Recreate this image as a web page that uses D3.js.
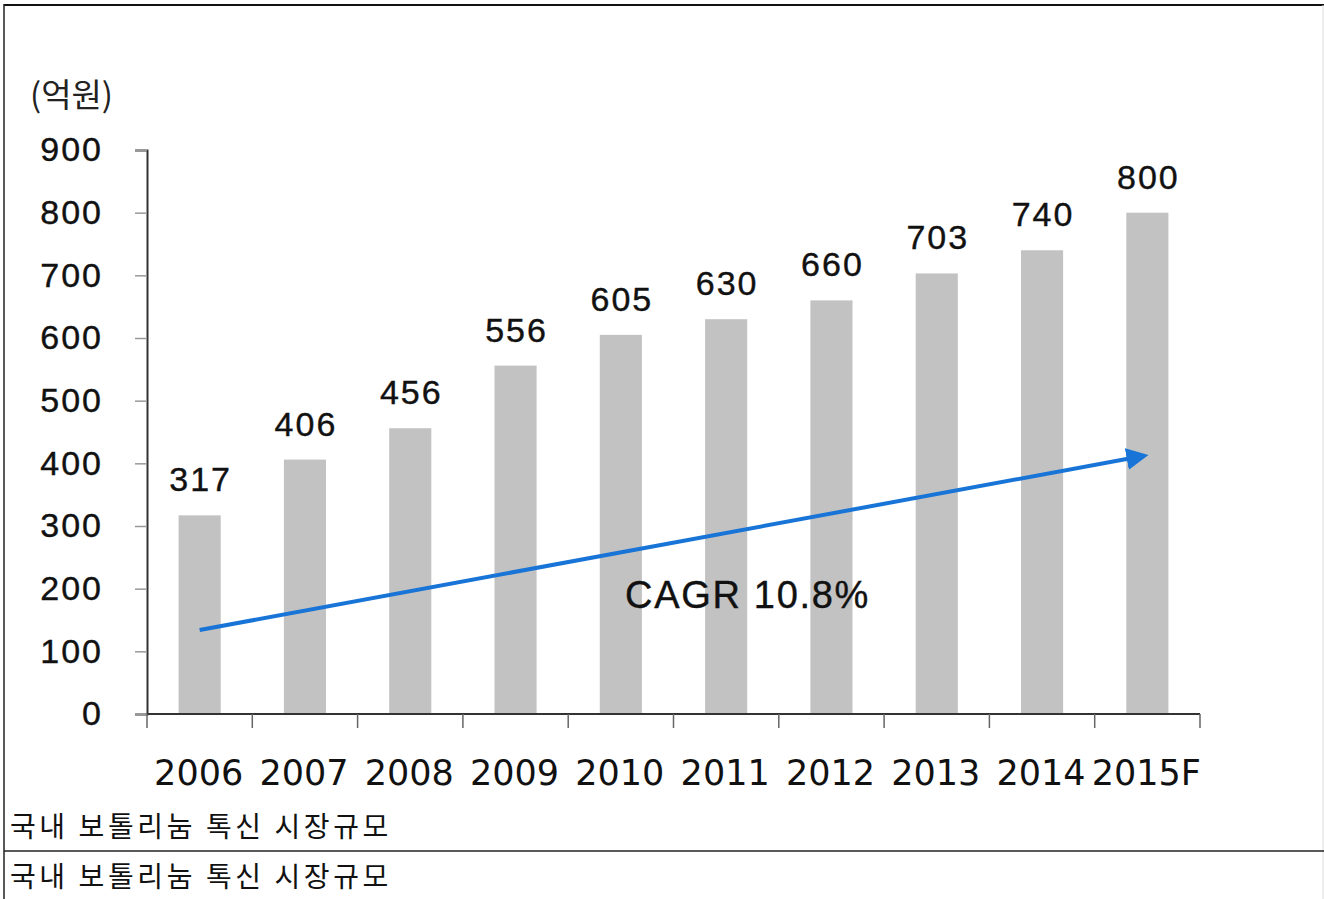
<!DOCTYPE html>
<html>
<head>
<meta charset="utf-8">
<script src="https://cdn.jsdelivr.net/npm/d3@7"></script>
<style>
  body { margin: 0; background: #fff; }
  svg { display: block; }
</style>
</head>
<body>
<div id="chart"></div>
<script>
var years = ["2006", "2007", "2008", "2009", "2010", "2011", "2012", "2013", "2014", "2015F"];
var values = [317, 406, 456, 556, 605, 630, 660, 703, 740, 800];
var yTicks = [0, 100, 200, 300, 400, 500, 600, 700, 800, 900];
var unitLabel = "(억원)";
var cagrLabel = "CAGR 10.8%";
var caption = "국내 보톨리눔 톡신 시장규모";
// arrow ends in data units (category, value)
var arrowFrom = ["2006", 134];
var arrowTo = ["2015F", 413];

var W = 1324, H = 899;
var margin = {top: 150, right: 124, bottom: 185, left: 147},
    width = W - margin.left - margin.right,
    height = H - margin.top - margin.bottom;

var numFont = "Liberation Sans, Arial, sans-serif";

var root = d3.select("#chart")
  .append("svg")
    .attr("width", W)
    .attr("height", H);

// frame lines
root.append("line").attr("x1", 4).attr("x2", W).attr("y1", 5).attr("y2", 5)
  .attr("stroke", "#111").attr("stroke-width", 2);
root.append("line").attr("x1", 4).attr("x2", 4).attr("y1", 4).attr("y2", H)
  .attr("stroke", "#222").attr("stroke-width", 1.5);
root.append("line").attr("x1", W - 1).attr("x2", W - 1).attr("y1", 5).attr("y2", H)
  .attr("stroke", "#ddd").attr("stroke-width", 1);
root.append("line").attr("x1", 4).attr("x2", W).attr("y1", 851).attr("y2", 851)
  .attr("stroke", "#222").attr("stroke-width", 1.5);

var svg = root.append("g")
  .attr("transform", "translate(" + margin.left + "," + margin.top + ")");

var x = d3.scaleBand()
  .range([0, width])
  .domain(years)
  .paddingInner(0.6)
  .paddingOuter(0.3);

var xTick = d3.scaleBand()
  .range([0, width])
  .domain(years)
  .padding(0);

var y = d3.scaleLinear()
  .domain([0, 900])
  .range([height, 0]);

// bars
svg.selectAll("rect.bar")
  .data(values)
  .enter()
  .append("rect")
    .attr("class", "bar")
    .attr("x", function(d, i) { return x(years[i]); })
    .attr("width", x.bandwidth())
    .attr("y", function(d) { return y(d); })
    .attr("height", function(d) { return height - y(d); })
    .attr("fill", "#c2c2c2");

// value labels
svg.selectAll("text.val")
  .data(values)
  .enter()
  .append("text")
    .attr("class", "val")
    .attr("x", function(d, i) { return x(years[i]) + x.bandwidth() / 2 + 1; })
    .attr("y", function(d) { return y(d) - 24; })
    .attr("text-anchor", "middle")
    .style("font-family", numFont)
    .style("font-size", "34px")
    .style("letter-spacing", "2px")
    .attr("fill", "#111")
    .attr("stroke", "#111").attr("stroke-width", 0.4)
    .text(function(d) { return d; });

// y axis
var yAxis = svg.append("g")
  .call(d3.axisLeft(y).tickValues(yTicks).tickSize(12).tickPadding(32));
yAxis.select(".domain").attr("stroke", "#333").attr("stroke-width", 2);
yAxis.selectAll(".tick line").attr("stroke", "#999").attr("stroke-width", 1.5);
yAxis.selectAll("text")
  .style("font-family", numFont)
  .style("font-size", "34px")
  .style("letter-spacing", "2px")
  .attr("fill", "#111")
  .attr("stroke", "#111").attr("stroke-width", 0.4);

// x axis with ticks at band edges
var edges = years.map(function(c) { return xTick(c); }).concat([width]);
var xAxis = svg.append("g")
  .attr("transform", "translate(0," + height + ")");
xAxis.append("line")
  .attr("x1", 0).attr("x2", width)
  .attr("stroke", "#333").attr("stroke-width", 2);
xAxis.selectAll("line.tk")
  .data(edges)
  .enter()
  .append("line")
    .attr("class", "tk")
    .attr("x1", function(d) { return d; })
    .attr("x2", function(d) { return d; })
    .attr("y1", 0).attr("y2", 14)
    .attr("stroke", "#666").attr("stroke-width", 1.5);
xAxis.selectAll("text")
  .data(years)
  .enter()
  .append("text")
    .attr("x", function(d) { return xTick(d) + xTick.bandwidth() / 2 - 1; })
    .attr("y", 71)
    .attr("text-anchor", "middle")
    .style("font-family", "DejaVu Sans, sans-serif")
    .style("font-size", "35px")
    .attr("fill", "#111")
    .text(function(d) { return d; });

// unit label
root.append("text")
  .attr("x", 30).attr("y", 107)
  .style("font-family", "Noto Sans CJK KR, sans-serif")
  .style("font-size", "33px")
  .attr("fill", "#222")
  .text(unitLabel);

// CAGR arrow
svg.append("defs").append("marker")
  .attr("id", "head")
  .attr("viewBox", "0 0 10 10")
  .attr("refX", 3).attr("refY", 5)
  .attr("markerWidth", 5.5).attr("markerHeight", 5.5)
  .attr("orient", "auto")
  .append("path")
    .attr("d", "M0,0 L10,5 L0,10 Z")
    .attr("fill", "#1874d6");

svg.append("line")
  .attr("x1", xTick(arrowFrom[0]) + xTick.bandwidth() / 2)
  .attr("y1", y(arrowFrom[1]))
  .attr("x2", xTick(arrowTo[0]) + xTick.bandwidth() / 2 - 14)
  .attr("y2", y(arrowTo[1]) + 2.6)
  .attr("stroke", "#1874d6")
  .attr("stroke-width", 4)
  .attr("marker-end", "url(#head)");

svg.append("text")
  .attr("x", 478).attr("y", 458)
  .style("font-family", numFont)
  .style("font-size", "38px")
  .style("letter-spacing", "1.7px")
  .attr("fill", "#111")
  .attr("stroke", "#111").attr("stroke-width", 0.4)
  .text(cagrLabel);

// captions
[837, 887].forEach(function(yy) {
  root.append("text")
    .attr("x", 10).attr("y", yy)
    .style("font-family", "Noto Sans CJK KR, sans-serif")
    .style("font-size", "28px")
    .style("letter-spacing", "3.6px")
    .attr("fill", "#111")
    .text(caption);
});
</script>
</body>
</html>
